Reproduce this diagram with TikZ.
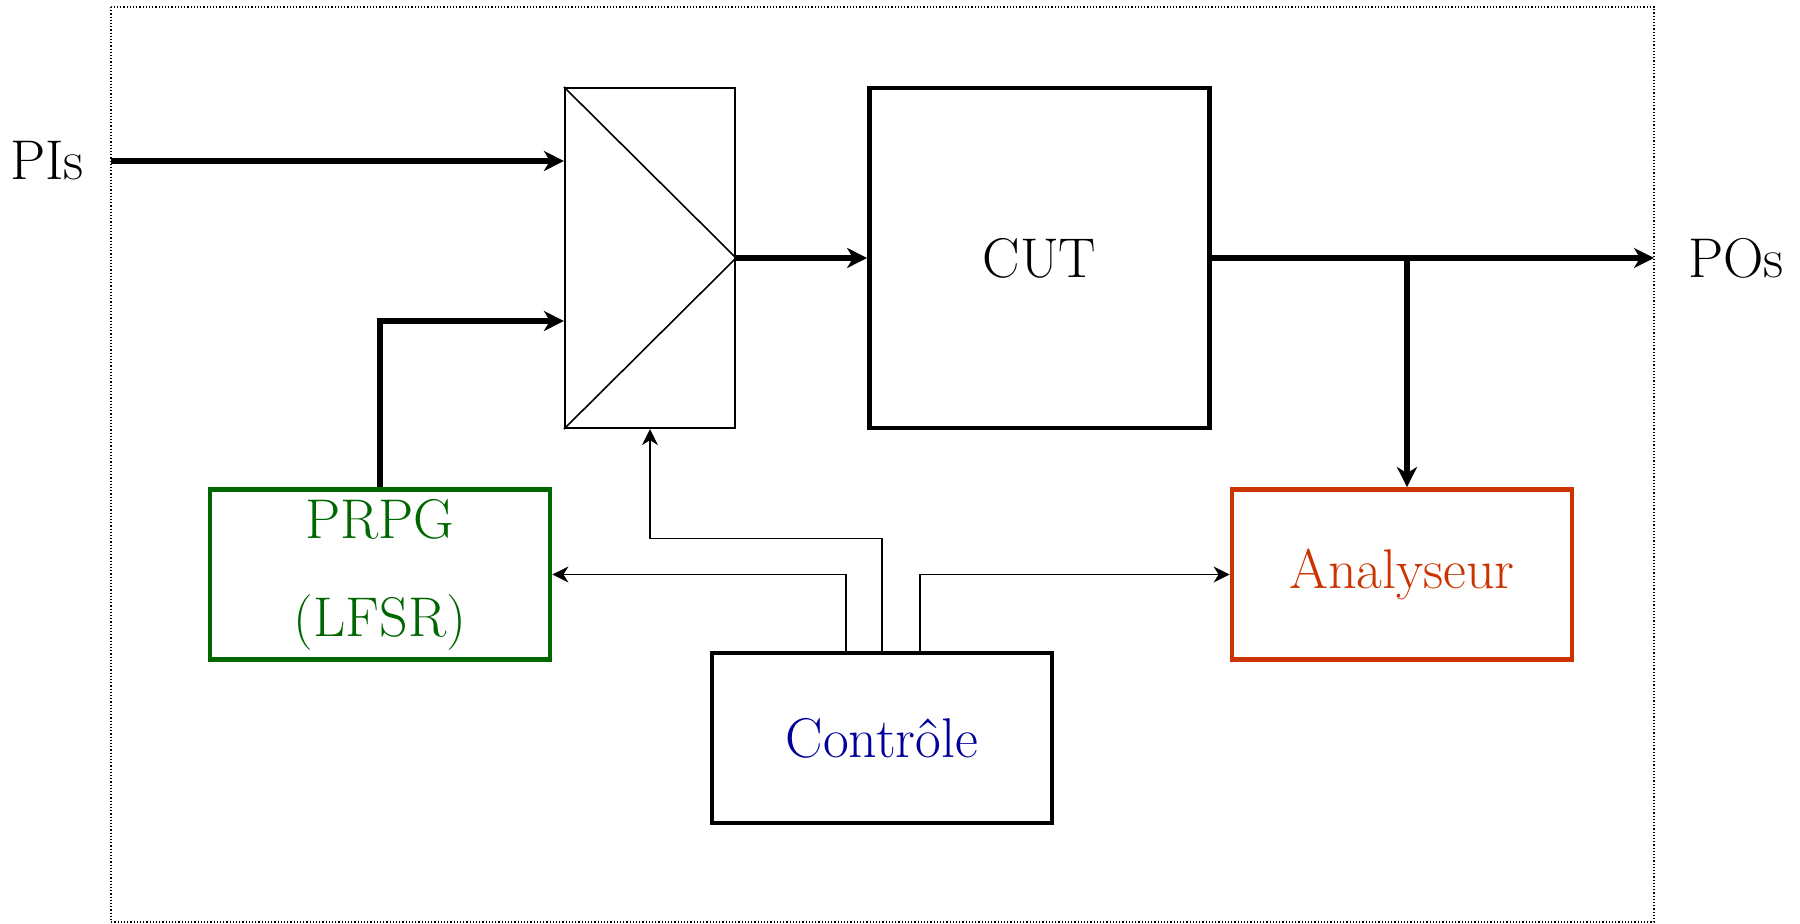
\documentclass[tikz,border=0pt]{standalone}
\usetikzlibrary{arrows.meta}
\definecolor{prpggreen}{RGB}{0,102,0}
\definecolor{anared}{RGB}{204,51,0}
\definecolor{ctrlblue}{RGB}{0,0,153}
\begin{document}
\begin{tikzpicture}[x=0.5pt,y=-0.5pt,
  lbl/.style={font=\fontsize{28}{34}\selectfont, inner sep=0pt},
  block/.style={draw, line width=2.4pt, minimum width=170pt, minimum height=85pt,
    inner sep=0pt, font=\fontsize{28}{49}\selectfont, align=center},
  muxbox/.style={draw, line width=1.1pt, minimum width=85pt, minimum height=170pt, inner sep=0pt},
  bus/.style={line width=2.7pt, -{Stealth[length=10pt,width=10pt,inset=3pt]}},
  sig/.style={line width=0.8pt, -{Stealth[length=8pt,width=8pt,inset=2.5pt]}}
]
\useasboundingbox (0,0) rectangle (1800,924);
% system boundary
\draw[densely dotted, line width=0.6pt] (111,7) rectangle (1654,922);

% blocks
\node[muxbox] (mux) at (650,258) {};
\draw[line width=0.8pt] (mux.north west) -- (mux.east) -- (mux.south west);
\node[block, minimum height=170pt] (cut) at (1039.5,258) {CUT};
\node[block, draw=prpggreen, text=prpggreen] (prpg) at (380,574.5) {PRPG\\(LFSR)};
\node[block, draw=anared, text=anared] (ana) at (1402,574.5) {Analyseur};
\node[block, text=ctrlblue] (ctrl) at (882,738) {Contr\^ole};

% primary inputs / outputs
\node[lbl] (pis) at (47,161) {PIs};
\node[lbl] (pos) at (1736,258) {POs};
\coordinate (piin) at (111,161);
\coordinate (poout) at (1654,258);

% data path
\draw[bus] (piin) -- (piin -| mux.west);
\draw[bus] (prpg.north) |- ([yshift=-31.5pt]mux.west);
\draw[bus] (mux.east) -- (cut.west);
\draw[bus] (cut.east) -- (poout);
\coordinate (tap) at ([xshift=2.5pt]ana.north);
\draw[bus] (cut.east -| tap) -- (tap);

% control signals
\draw[sig] ([xshift=-18pt]ctrl.north) |- (prpg.east);
\draw[sig] ([xshift=19pt]ctrl.north) |- (ana.west);
\draw[sig] (ctrl.north) -- ++(0,-112) -| (mux.south);
\end{tikzpicture}
\end{document}
